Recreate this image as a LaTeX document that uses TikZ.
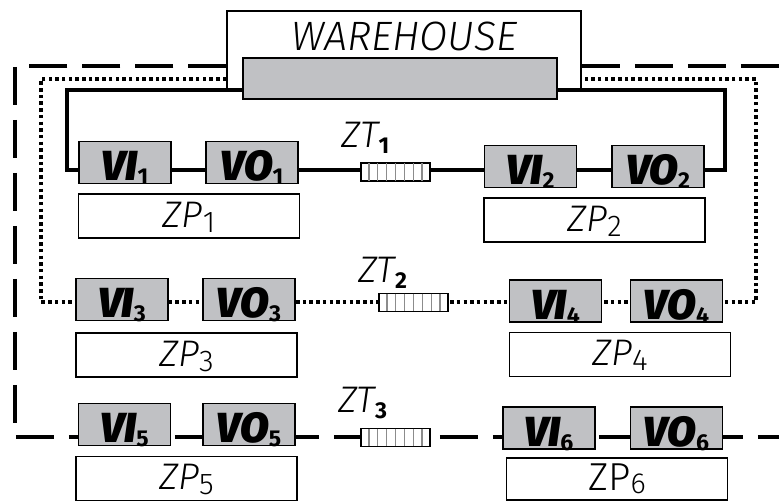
\documentclass[tikz,border=0pt]{standalone}
\usepackage{fontspec}
\setmainfont{Fira Sans Light}[ItalicFont={Fira Sans Light Italic}, BoldFont={Fira Sans Bold}, BoldItalicFont={Fira Sans Black Italic}]
\usetikzlibrary{calc,backgrounds}

\definecolor{baygray}{RGB}{192,193,196}
\definecolor{stripegray}{RGB}{140,140,140}

% lowered indices
\newcommand{\vsub}[1]{\raisebox{-4pt}{\fontsize{23}{23}\selectfont\bfseries\upshape #1}}
\newcommand{\psub}[1]{\raisebox{-5pt}{\fontsize{30}{30}\selectfont\upshape #1}}
\newcommand{\tsub}[1]{\raisebox{-6pt}{\fontsize{23}{23}\selectfont\bfseries\upshape #1}}

\tikzset{
  warehouse/.style={draw, line width=1.5pt, fill=white, inner sep=0pt,
    minimum width=354pt, text height=39pt, text depth=39pt,
    font=\fontsize{41}{41}\selectfont\itshape},
  bay/.style={draw, line width=1.5pt, fill=baygray, inner sep=0pt,
    minimum width=314pt, minimum height=41pt},
  station/.style={draw, line width=1.5pt, fill=baygray, inner sep=0pt,
    minimum width=92pt, text height=39pt, text depth=3pt,
    font=\fontsize{42}{42}\selectfont\bfseries\itshape},
  zone/.style={draw, line width=1.5pt, fill=white, inner sep=0pt,
    minimum width=221pt, text height=33pt, text depth=11pt,
    font=\fontsize{37}{37}\selectfont\itshape},
  buffer/.style={draw, line width=1.5pt, fill=white, inner sep=0pt,
    minimum width=69pt, minimum height=18pt},
  stripe/.style={stripegray, line width=1.2pt, shorten >=0.8pt, shorten <=0.8pt},
  tlabel/.style={anchor=base, inner sep=0pt, font=\fontsize{37}{37}\selectfont\itshape},
  solidloop/.style={line width=3.5pt, line join=miter},
  dotloop/.style={line width=3.5pt, dash pattern=on 3.5pt off 3.2pt},
  dashloop/.style={line width=3.8pt, dash pattern=on 38pt off 15pt}
}

\begin{document}
\begin{tikzpicture}[x=1pt, y=-1pt]
  \useasboundingbox (0,0) rectangle (779,501);

  % warehouse
  \node[warehouse] (wh) at (404,50) {WAREHOUSE};
  \node[bay] (whbay) at (400,78.5) {};

  % first loop
  \node[station] (vi1) at (125,162.5) {VI\vsub{1}};
  \node[station] (vo1) at (252,162.5) {VO\vsub{1}};
  \node[zone] (zp1) at (189,216) {ZP\psub{1}};
  \node[buffer] (zt1) at (395.5,172) {};
  \node[tlabel] at ($(zt1.north)+(-30,-15)$) {ZT\tsub{1}};
  \node[station] (vi2) at (530.5,166.5) {VI\vsub{2}};
  \node[station] (vo2) at (658,166.5) {VO\vsub{2}};
  \node[zone] (zp2) at (594.5,220) {ZP\psub{2}};

  % second loop
  \node[station] (vi3) at (122,299.5) {VI\vsub{3}};
  \node[station] (vo3) at (249,299.5) {VO\vsub{3}};
  \node[zone] (zp3) at (186.5,355) {ZP\psub{3}};
  \node[buffer] (zt2) at (413.5,302.5) {};
  \node[tlabel] at ($(zt2.north)+(-31,-10)$) {ZT\tsub{2}};
  \node[station] (vi4) at (555.5,301) {VI\vsub{4}};
  \node[station] (vo4) at (676.5,301) {VO\vsub{4}};
  \node[zone] (zp4) at (620,354.5) {ZP\psub{4}};

  % third loop
  \node[station] (vi5) at (124.5,424.5) {VI\vsub{5}};
  \node[station] (vo5) at (249,424.5) {VO\vsub{5}};
  \node[zone] (zp5) at (186.5,478.5) {ZP\psub{5}};
  \node[buffer] (zt3) at (395.5,437.5) {};
  \node[tlabel] at ($(zt3.north)+(-33,-15)$) {ZT\tsub{3}};
  \node[station] (vi6) at (549,428) {VI\vsub{6}};
  \node[station] (vo6) at (676.5,428) {VO\vsub{6}};
  \node[zone, text height=32pt, text depth=10pt, font=\fontsize{39}{39}\selectfont] (zp6) at (617,479) {ZP\raisebox{-3pt}{\fontsize{29}{29}\selectfont 6}};

  \foreach \b in {zt1,zt2,zt3}
    \foreach \k in {1,...,7}
      \draw[stripe] ($(\b.north west)!\k/8!(\b.north east)$) -- ($(\b.south west)!\k/8!(\b.south east)$);

  % loops behind the boxes
  \begin{scope}[on background layer]
    \draw[solidloop] (whbay.west |- 0,90) -| (67,170) -| (725,90) -- (whbay.east |- 0,90);
    \draw[dotloop] (wh.west |- 0,79) -| (41,302) -| (756,79) -- (wh.east |- 0,79);
    \draw[dashloop] (wh.west |- 0,66) -| (15,437) -- (779,437);
    \draw[dashloop] (wh.east |- 0,66) -- (779,66);
  \end{scope}
\end{tikzpicture}
\end{document}
